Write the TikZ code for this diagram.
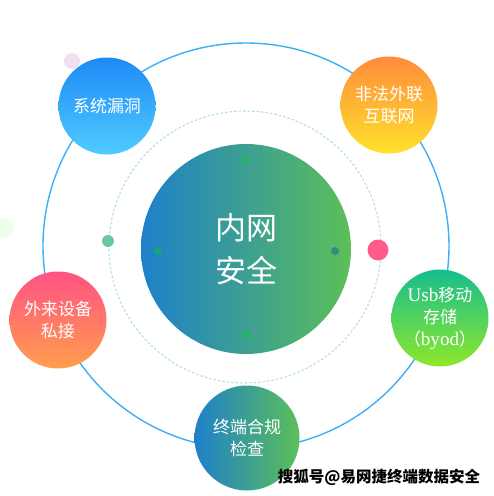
\documentclass[tikz,border=0pt]{standalone}
\usepackage{fontspec}
\setmainfont{Noto Sans CJK SC}
\newfontfamily\latinfont{Liberation Serif}[Scale=1.12]
\usetikzlibrary{calc}

\definecolor{ringblue}{HTML}{3BB0F5}
\definecolor{dashblue}{HTML}{B2DCF2}
\definecolor{coreleft}{HTML}{1E80CA}
\definecolor{coreright}{HTML}{5CBF58}
\definecolor{bluetop}{HTML}{1E8AF6}
\definecolor{bluebot}{HTML}{4FCBFF}
\definecolor{orangetop}{HTML}{FF8C3C}
\definecolor{orangebot}{HTML}{FFE12A}
\definecolor{pinktop}{HTML}{FF5284}
\definecolor{pinkbot}{HTML}{FF9E4C}
\definecolor{greentop}{HTML}{18BD90}
\definecolor{greenbot}{HTML}{8DE82A}
\definecolor{pinkdot}{HTML}{FF5C8C}
\definecolor{tealdot}{HTML}{6CC8A0}

\begin{document}
\begin{tikzpicture}[x=1pt,y=-1pt,
    topic/.style={circle,minimum size=97pt,inner sep=0pt,align=center,text=white,font=\fontsize{17}{22}\selectfont},
    core/.style={circle,minimum size=210pt,inner sep=0pt,align=center,text=white,left color=coreleft,right color=coreright,font=\fontsize{31}{43}\selectfont},
    dot/.style={circle,inner sep=0pt}]

    \useasboundingbox (0,0) rectangle (494,496);

    \draw[ringblue, line width=1.4pt] (246,246) circle[radius=203];
    \draw[dashblue, line width=1.1pt, dash pattern=on 2.5pt off 2pt] (245,247) circle[radius=136];

    \node (1) at (246,249) [core]{内网\\安全};

    \node (2) at ($(1)+(-139,-143)$) [topic, top color=bluetop, bottom color=bluebot]{系统漏洞};
    \node (3) at ($(1)+(143,-144)$) [topic, top color=orangetop, bottom color=orangebot]{非法外联\\互联网};
    \node (4) at ($(1)+(-188,71)$) [topic, top color=pinktop, bottom color=pinkbot]{外来设备\\私接};
    \node (5) at ($(1)+(194,69)$) [topic, top color=greentop, bottom color=greenbot]{{\latinfont Usb}移动\\存储\\（{\latinfont byod}）};
    \node (6) at ($(1)+(1,189)$) [topic, minimum size=105pt, left color=coreleft, right color=coreright]{终端合规\\检查};

    \node (7) at (378,250) [dot, fill=pinkdot, minimum size=21pt]{};
    \node (8) at (108,241) [dot, fill=tealdot, minimum size=12pt]{};
    \node (9) at (72,61) [dot, fill=violet!12, minimum size=16pt]{};
    \node (10) at (4,228) [dot, fill=green!8, minimum size=20pt]{};

    \node (11) at ($(1)+(0,-89)$) [dot, fill=green!60!teal, opacity=0.45, minimum size=8pt]{};
    \node (12) at ($(1)+(-88,2)$) [dot, fill=green!60!teal, opacity=0.45, minimum size=8pt]{};
    \node (13) at ($(1)+(0,86)$) [dot, fill=green!60!teal, opacity=0.45, minimum size=8pt]{};
    \node (14) at ($(1)+(89,2)$) [dot, fill=teal!70!blue, opacity=0.45, minimum size=8pt]{};

    \node (15) at (379,477) [font=\fontsize{15.5}{16}\selectfont\bfseries, text=black]{搜狐号@易网捷终端数据安全};
\end{tikzpicture}
\end{document}
